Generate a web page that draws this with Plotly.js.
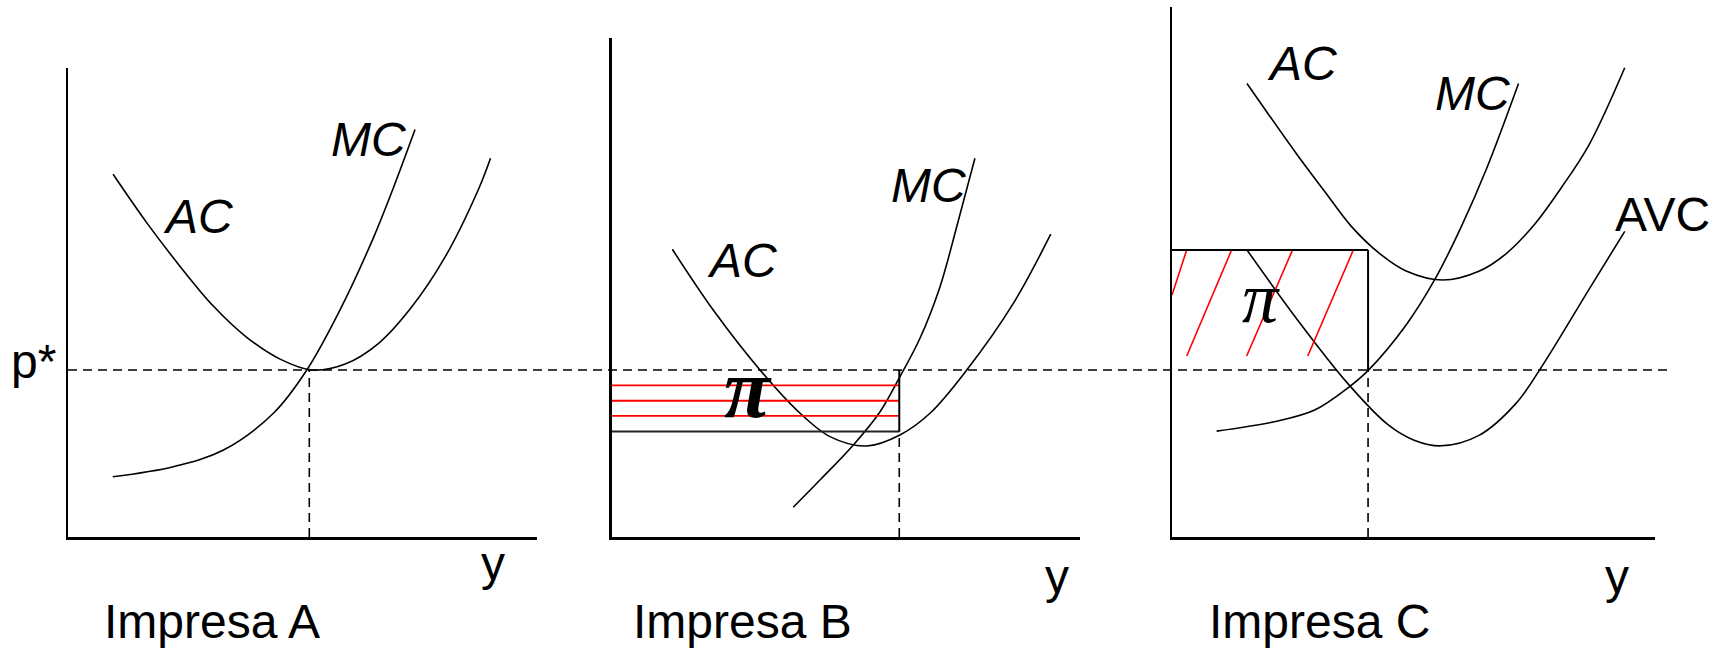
<!DOCTYPE html>
<html>
<head>
<meta charset="utf-8">
<script src="https://cdn.plot.ly/plotly-3.0.1.min.js"></script>
<style>html,body{margin:0;padding:0;background:#fff;}#chart{width:1724px;height:651px;}</style>
</head>
<body>
<div id="chart"></div>
<script>
// ---------------- data (cost units; p* = 10) ----------------
const PANEL_NAMES = ['Impresa A', 'Impresa B', 'Impresa C'];
const P_STAR = 10;

// Impresa A
const A_AC_X = [2.7, 4.7, 6.7, 8.7, 10.7, 12.7, 14.6, 16.6, 18.6, 20.6, 22.6, 24.6, 25.3];
const A_AC_Y = [21.72, 18.84, 16.22, 13.83, 11.96, 10.65, 10.0, 10.36, 11.6, 13.8, 16.8, 20.87, 22.68];
const A_MC_X = [2.68, 6.31, 9.31, 12.30, 14.30, 16.29, 18.28, 19.48, 20.78];
const A_MC_Y = [3.61, 4.21, 5.21, 7.41, 10.00, 13.60, 17.90, 20.90, 24.40];
const A_Q_STAR = 14.45;

// Impresa B
const B_AC_X = [3.63, 6.08, 8.88, 11.08, 13.07, 15.27, 17.26, 19.06, 21.26, 24.05, 26.29];
const B_AC_Y = [17.23, 13.59, 10.00, 7.60, 6.01, 5.45, 6.11, 7.41, 10.00, 13.99, 18.13];
const B_MC_X = [10.87, 12.47, 14.47, 16.07, 17.26, 18.46, 19.66, 20.66, 21.75];
const B_MC_Y = [1.78, 3.41, 5.51, 7.50, 9.60, 11.90, 14.99, 18.58, 22.68];
const B_Q_STAR = 17.22;
const B_AC_AT_Q = 6.31;
const B_PROFIT_LINES = [9.08, 8.16, 7.25];

// Impresa C
const C_AC_X = [4.49, 7.45, 9.10, 10.74, 12.40, 14.02, 16.22, 18.41, 20.00, 21.69, 23.30, 24.98, 27.11];
const C_AC_Y = [27.16, 22.95, 20.75, 18.60, 17.00, 15.93, 15.39, 15.93, 16.96, 18.70, 20.90, 23.50, 28.10];
const C_AVC_X = [4.49, 7.45, 10.52, 12.93, 14.50, 16.11, 18.41, 20.60, 22.14, 24.98, 27.11];
const C_AVC_Y = [17.19, 13.09, 9.20, 6.73, 5.80, 5.46, 6.10, 8.00, 10.20, 14.84, 18.30];
const C_MC_X = [2.67, 6.35, 8.54, 10.52, 11.75, 14.02, 15.78, 17.31, 18.84, 20.75];
const C_MC_Y = [6.34, 6.95, 7.60, 8.92, 9.98, 12.70, 15.50, 18.56, 22.07, 27.16];
const C_Q_STAR = 11.74;
const C_AVC_AT_Q = 17.19;
const C_HATCH_X0 = [0.00, 0.88, 4.47, 8.13];
const C_HATCH_Y0 = [14.49, 10.84, 10.84, 10.84];
const C_HATCH_X1 = [0.88, 3.57, 7.22, 10.86];
const C_HATCH_Y1 = [17.19, 17.19, 17.19, 17.19];

// text
const LBL_AC = 'AC', LBL_MC = 'MC', LBL_AVC = 'AVC', LBL_PI = 'π', LBL_P = 'p*', LBL_Y = 'y';

// ---------------- layout helpers ----------------
const W = 1724, H = 651;
const S = 16.7;           // px per unit
const BASE = 537;         // px of the x axes
const px = v => v / W;
const py = v => 1 - v / H;

const panels = [
  {x0: 68,    x1: 537,  top: 68},
  {x0: 611.7, x1: 1080, top: 38},
  {x0: 1172,  x1: 1655, top: 7}
];

const layout = {
  width: W, height: H,
  margin: {l: 0, r: 0, t: 0, b: 0},
  paper_bgcolor: '#ffffff', plot_bgcolor: 'rgba(0,0,0,0)',
  showlegend: false,
  font: {family: 'Liberation Sans, Arial, sans-serif', color: '#000'},
  shapes: [], annotations: []
};

panels.forEach((p, i) => {
  const sfx = i === 0 ? '' : String(i + 1);
  const common = {showline: true, linecolor: '#000', linewidth: 2.5, showticklabels: false,
    ticks: '', showgrid: false, zeroline: false, fixedrange: true};
  layout['xaxis' + sfx] = Object.assign({}, common, {
    domain: [px(p.x0), px(p.x1)], range: [0, (p.x1 - p.x0) / S], anchor: 'y' + sfx});
  layout['yaxis' + sfx] = Object.assign({}, common, {
    domain: [py(BASE), py(p.top)], range: [0, (BASE - p.top) / S], anchor: 'x' + sfx});
});

const curve = (x, y, ax) => ({
  type: 'scatter', mode: 'lines', x: x, y: y, xaxis: 'x' + ax, yaxis: 'y' + ax,
  line: {color: '#000', width: 1.6, shape: 'spline', smoothing: 1}, hoverinfo: 'skip'
});

const traces = [
  curve(A_AC_X, A_AC_Y, ''), curve(A_MC_X, A_MC_Y, ''),
  curve(B_AC_X, B_AC_Y, '2'), curve(B_MC_X, B_MC_Y, '2'),
  curve(C_AC_X, C_AC_Y, '3'), curve(C_AVC_X, C_AVC_Y, '3'), curve(C_MC_X, C_MC_Y, '3')
];

const dash = {color: '#000', width: 1.6, dash: '9px,6px'};
const solid = (w, c) => ({color: c || '#000', width: w});

// p* line across all panels
layout.shapes.push({type: 'line', xref: 'paper', yref: 'y', x0: px(68), x1: px(1672),
  y0: P_STAR, y1: P_STAR, line: dash});

// Impresa A
layout.shapes.push({type: 'line', xref: 'x', yref: 'y', x0: A_Q_STAR, x1: A_Q_STAR, y0: 0, y1: P_STAR, line: dash});

// Impresa B: profit rectangle
B_PROFIT_LINES.forEach(v => layout.shapes.push({type: 'line', xref: 'x2', yref: 'y2',
  x0: 0, x1: B_Q_STAR, y0: v, y1: v, line: solid(1.8, '#ff0000')}));
layout.shapes.push({type: 'line', xref: 'x2', yref: 'y2', x0: 0, x1: B_Q_STAR,
  y0: B_AC_AT_Q, y1: B_AC_AT_Q, line: solid(2, '#222')});
layout.shapes.push({type: 'line', xref: 'x2', yref: 'y2', x0: B_Q_STAR, x1: B_Q_STAR,
  y0: B_AC_AT_Q, y1: P_STAR, line: solid(2)});
layout.shapes.push({type: 'line', xref: 'x2', yref: 'y2', x0: B_Q_STAR, x1: B_Q_STAR,
  y0: 0, y1: B_AC_AT_Q, line: dash});

// Impresa C: loss rectangle
C_HATCH_X0.forEach((x0, k) => layout.shapes.push({type: 'line', xref: 'x3', yref: 'y3',
  x0: x0, y0: C_HATCH_Y0[k], x1: C_HATCH_X1[k], y1: C_HATCH_Y1[k], line: solid(1.6, '#ff0000')}));
layout.shapes.push({type: 'line', xref: 'x3', yref: 'y3', x0: 0, x1: C_Q_STAR,
  y0: C_AVC_AT_Q, y1: C_AVC_AT_Q, line: solid(2)});
layout.shapes.push({type: 'line', xref: 'x3', yref: 'y3', x0: C_Q_STAR, x1: C_Q_STAR,
  y0: P_STAR, y1: C_AVC_AT_Q, line: solid(2)});
layout.shapes.push({type: 'line', xref: 'x3', yref: 'y3', x0: C_Q_STAR, x1: C_Q_STAR,
  y0: 0, y1: P_STAR, line: dash});

// ---------------- annotations ----------------
const SANS = 'Liberation Sans, Arial, Helvetica, sans-serif';
const SERIF = 'Liberation Serif, Times New Roman, serif';
const ann = (text, x, y, size, family) => layout.annotations.push({
  xref: 'paper', yref: 'paper', x: px(x), y: py(y), text: text, showarrow: false,
  xanchor: 'center', yanchor: 'middle', font: {family: family || SANS, size: size || 48, color: '#000'}
});

ann(LBL_P, 33, 361);
ann('<i>' + LBL_AC + '</i>', 198, 216);
ann('<i>' + LBL_MC + '</i>', 368, 139);
ann('<i>' + LBL_AC + '</i>', 742, 261);
ann('<i>' + LBL_MC + '</i>', 928, 185);
ann('<i>' + LBL_AC + '</i>', 1302, 63);
ann('<i>' + LBL_MC + '</i>', 1472, 94);
ann(LBL_AVC, 1662, 215);
ann('<b><i>' + LBL_PI + '</i></b>', 748, 388, 84, SERIF);
ann('<i>' + LBL_PI + '</i>', 1261, 298, 72, SERIF);
ann(LBL_Y, 493, 563);
ann(LBL_Y, 1057, 576);
ann(LBL_Y, 1617, 576);
ann(PANEL_NAMES[0], 212, 621);
ann(PANEL_NAMES[1], 742, 621);
ann(PANEL_NAMES[2], 1319, 621);

Plotly.newPlot('chart', traces, layout, {staticPlot: true, displayModeBar: false});
</script>
</body>
</html>
